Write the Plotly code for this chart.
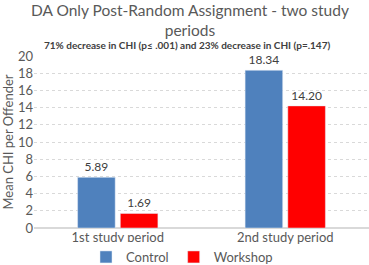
import plotly.graph_objects as go

categories = ["1st study period", "2nd study period"]
control = [5.89, 18.34]
workshop = [1.69, 14.20]
control_labels = ["5.89", "18.34"]
workshop_labels = ["1.69", "14.20"]
y_ticks = [0, 2, 4, 6, 8, 10, 12, 14, 16, 18, 20]

FONT = "Lato"
GRAY = "#595959"

W, H = 369, 265
ML, MR, MT, MB = 34, 0, 56, 37
PW, PH = W - ML - MR, H - MT - MB


def px_x(px):
    return (px - ML) / PW


def px_y(py):
    return (H - MB - py) / PH


fig = go.Figure()
fig.add_trace(go.Bar(name="Control", x=categories, y=control, marker_color="#4F81BD",
                     text=control_labels, textposition="outside",
                     textfont=dict(size=12, color="#404040", family=FONT), cliponaxis=False))
fig.add_trace(go.Bar(name="Workshop", x=categories, y=workshop, marker_color="#FF0000",
                     text=workshop_labels, textposition="outside",
                     textfont=dict(size=12, color="#404040", family=FONT), cliponaxis=False))

fig.update_layout(
    width=W, height=H,
    margin=dict(l=ML, r=MR, t=MT, b=MB, autoexpand=False),
    paper_bgcolor="white", plot_bgcolor="white",
    barmode="group", bargap=0.49, bargroupgap=0.12,
    font=dict(family=FONT, color=GRAY, size=12),
    showlegend=True,
    legend=dict(orientation="h", x=px_x(182), xanchor="center",
                y=px_y(257), yanchor="middle",
                font=dict(size=13, color=GRAY, family=FONT), itemwidth=30,
                traceorder="normal"),
    xaxis=dict(showline=False, ticks="", automargin=False,
               tickfont=dict(size=13, color=GRAY, family=FONT)),
    yaxis=dict(range=[0, 20], tickvals=y_ticks, showgrid=True, gridcolor="#D9D9D9",
               griddash="dot", zeroline=True, zerolinecolor="#D9D9D9", automargin=False,
               tickfont=dict(size=13, color=GRAY, family=FONT),
               title=dict(text="Mean CHI per Offender", font=dict(size=13, color=GRAY, family=FONT),
                          standoff=2)),
    annotations=[
        dict(text="DA Only Post-Random Assignment - two study<br>periods", x=px_x(190), y=px_y(20),
             xref="paper", yref="paper", xanchor="center", yanchor="middle", align="center",
             showarrow=False, font=dict(size=15.5, color=GRAY, family=FONT)),
        dict(text="<b>71% decrease in CHI (p≤ .001) and 23% decrease in CHI (p=.147)</b>",
             x=px_x(187), y=px_y(45), xref="paper", yref="paper",
             xanchor="center", yanchor="middle", showarrow=False,
             font=dict(size=10, color="#404040", family=FONT)),
    ],
)

fig.write_html("out.html", config={"displayModeBar": False},
               post_script="document.body.style.margin='0';")
